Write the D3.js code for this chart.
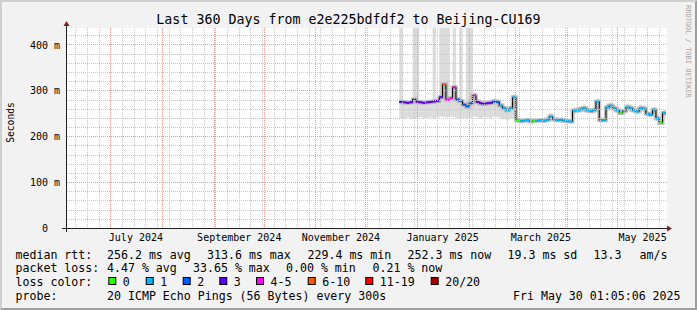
<!DOCTYPE html>
<html><head><meta charset="utf-8">
<script src="https://cdn.jsdelivr.net/npm/d3@7/dist/d3.min.js"></script>
<style>
html,body{margin:0;padding:0;background:#f2f2f2;}
svg{display:block}
text{font-family:"DejaVu Sans Mono",monospace;fill:#000}
</style></head><body>
<svg id="chart" width="697" height="310"></svg>
<script>
// ---------------- data ----------------
const titleText = "Last 360 Days from e2e225bdfdf2 to Beijing-CU169";
const yAxisTitle = "Seconds";
const watermark = "RRDTOOL / TOBI OETIKER";
const graphStart = new Date(2024,5,4,1,5,6);
const graphEnd = new Date(2025,4,30,1,5,6);
const dataStart = new Date(2024,11,21);
const stepDays = 2;

// median rtt (ms), one value per 2-day step
const median = [276,275,274,275,281,276,275,274,275,276,277,278,286,314,281,284,308,281,278,270,
                266,273,290,276,273,272,273,274,277,276,268,262,258,262,286,236,234,235,236,233,
                235,235,236,235,237,244,238,236,237,235,234,233,257,258,260,262,258,256,258,277,
                236,236,264,268,262,258,252,256,264,262,258,255,262,261,250,248,259,240,230,252];
// lost pings out of 20
const loss = [3,3,3,3,3,3,3,3,3,3,3,3,3,7,4,4,5,2,2,2,
              2,2,4,3,3,3,3,3,2,2,1,1,1,1,1,0,1,1,1,0,
              0,1,1,1,1,1,1,1,1,1,1,1,1,1,1,1,1,1,1,1,
              1,1,1,1,1,1,0,1,1,1,1,1,1,1,1,1,1,1,0,1];
// smoke: min and max ping (ms)
const pingMin = [241,240,242,240,239,241,243,240,241,242,240,242,244,243,242,244,243,240,239,241,
                 240,242,244,242,241,243,242,241,244,243,240,238,236,239,241,232,231,232,232,230,
                 231,232,232,231,233,236,233,232,233,231,230,230,250,252,253,254,252,250,251,262,
                 232,232,256,258,255,251,247,250,255,254,252,249,254,253,245,243,250,235,227,244];
const pingMax = [500,279,279,280,500,500,279,278,279,281,500,283,500,500,500,289,500,286,500,275,
                 500,500,296,281,278,277,278,280,283,281,273,267,263,268,292,241,239,240,241,238,
                 240,240,241,241,243,252,244,241,242,240,239,238,263,264,266,270,264,262,265,282,
                 242,242,272,274,269,265,258,262,272,270,266,262,270,268,256,254,264,247,236,258];

const yTickValues = [0,100,200,300,400];
const yTickLabels = ["0","100 m","200 m","300 m","400 m"];
const xLabelMonths = [new Date(2024,6,1),new Date(2024,8,1),new Date(2024,10,1),new Date(2025,0,1),new Date(2025,2,1),new Date(2025,4,1)];
const xTickLabels = ["July 2024","September 2024","November 2024","January 2025","March 2025","May 2025"];

const lossBuckets = ["0","1","2","3","4-5","6-10","11-19","20/20"];
const lossBucketMax = [0,1,2,3,5,10,19,20];
const lossColors = ["#26ff00","#00b8ff","#0059ff","#5e00ff","#ff00ff","#ff5500","#ff0000","#a10000"];

const rttStats = ["256.2 ms avg","313.6 ms max","229.4 ms min","252.3 ms now","19.3 ms sd","13.3","am/s"];
const lossStats = ["4.47 % avg","33.65 % max","0.00 % min","0.21 % now"];
const probeText = "20 ICMP Echo Pings (56 Bytes) every 300s";
const stampText = "Fri May 30 01:05:06 2025";

// ---------------- drawing ----------------
const W = 697, H = 310;
const svg = d3.select("#chart");
const CX0 = 67, CX1 = 667, CY0 = 28, CY1 = 228;
const yMax = 437;
const x = d3.scaleTime().domain([graphStart, graphEnd]).range([66, 666]);
const y = d3.scaleLinear().domain([0, yMax]).range([228.5, 28]);

// background + bevel
svg.append("rect").attr("width",W).attr("height",H).attr("fill","#f2f2f2");
svg.append("polygon").attr("points",`0,0 ${W},0 ${W-2},2 2,2 2,${H-2} 0,${H}`).attr("fill","#cfcfcf");
svg.append("polygon").attr("points",`${W},0 ${W},${H} 0,${H} 2,${H-2} ${W-2},${H-2} ${W-2},2`).attr("fill","#9e9e9e");

// canvas
svg.append("rect").attr("x",CX0).attr("y",CY0).attr("width",CX1-CX0).attr("height",CY1-CY0).attr("fill","#fff");
svg.append("clipPath").attr("id","cv").append("rect").attr("x",CX0).attr("y",CY0).attr("width",CX1-CX0).attr("height",CY1-CY0+1);

const times = median.map((_,i)=>d3.timeDay.offset(dataStart, i*stepDays));
const pts = median.map((m,i)=>({t:times[i], m, lo:pingMin[i], hi:pingMax[i], loss:loss[i]}));
const ptsExt = pts.concat([Object.assign({}, pts[pts.length-1], {t:graphEnd})]);

const plot = svg.append("g").attr("clip-path","url(#cv)");
// smoke
const area = d3.area().curve(d3.curveStepAfter)
  .x(d=>x(d.t)).y0(d=>y(d.lo)).y1(d=>y(Math.min(d.hi, yMax+5)));
plot.append("path").datum(ptsExt).attr("d",area).attr("fill","#dcdcdc");

// grid
const months = d3.timeMonth.range(graphStart, graphEnd);
const monthSet = new Set(months.map(d=>+d));
const mondays = d3.timeMonday.range(graphStart, graphEnd).filter(d=>!monthSet.has(+d));
const minorH = d3.range(20, yMax, 20).filter(v=>v%100!==0);
const majorH = yTickValues.filter(v=>v>0);
const grid = svg.append("g").attr("shape-rendering","crispEdges");
const px = v => Math.floor(x(v))+0.5;
const py = v => Math.floor(y(v))+0.5;
grid.selectAll(".mv").data(mondays).join("line")
  .attr("x1",px).attr("x2",px).attr("y1",CY0).attr("y2",CY1)
  .attr("stroke","#c8c8c8").attr("stroke-dasharray","1,1");
grid.selectAll(".mh").data(minorH).join("line")
  .attr("y1",py).attr("y2",py).attr("x1",CX0).attr("x2",CX1)
  .attr("stroke","#c8c8c8").attr("stroke-dasharray","1,1");
grid.selectAll(".Mv").data(months).join("line")
  .attr("x1",px).attr("x2",px).attr("y1",CY0).attr("y2",CY1)
  .attr("stroke","#e79a9a").attr("stroke-dasharray","1,1");
grid.selectAll(".Mh").data(majorH).join("line")
  .attr("y1",py).attr("y2",py).attr("x1",CX0).attr("x2",CX1)
  .attr("stroke","#e79a9a").attr("stroke-dasharray","1,1");

// median halo, black step line, coloured loss segments
const medLine = d3.line().curve(d3.curveStepAfter).x(d=>x(d.t)).y(d=>y(d.m));
plot.append("path").datum(ptsExt).attr("d",medLine).attr("fill","none")
  .attr("stroke","#999").attr("stroke-width",4).attr("stroke-opacity",0.6);
plot.append("path").datum(ptsExt).attr("d",medLine).attr("fill","none")
  .attr("stroke","#000").attr("stroke-width",1);
const colorOf = l => lossColors[lossBucketMax.findIndex(mx => l <= mx)];
plot.selectAll(".seg").data(pts).join("line")
  .attr("x1",d=>x(d.t)).attr("x2",(d,i)=>x(ptsExt[i+1].t))
  .attr("y1",d=>y(d.m)).attr("y2",d=>y(d.m))
  .attr("stroke",d=>colorOf(d.loss)).attr("stroke-width",2);

// axes
svg.append("line").attr("x1",62).attr("x2",669).attr("y1",228.5).attr("y2",228.5).attr("stroke","#1f1f1f");
svg.append("line").attr("x1",66.5).attr("x2",66.5).attr("y1",232).attr("y2",26).attr("stroke","#1f1f1f");
svg.append("polygon").attr("points","667,225.5 672,228.5 667,231.5").attr("fill","#7f1f1f");
svg.append("polygon").attr("points","63.5,26 66.5,21 69.5,26").attr("fill","#7f1f1f");

// y labels
svg.selectAll(".yl").data(yTickValues).join("text")
  .attr("x",60).attr("y",d=>y(d)+3.6).attr("text-anchor","end")
  .style("font-size","10px").style("white-space","pre")
  .text((d,i)=> yTickLabels[i].includes(" ") ? yTickLabels[i] : yTickLabels[i]+"  ");
// x labels
svg.selectAll(".xl").data(xLabelMonths).join("text")
  .attr("x",d=>x(d3.timeDay.offset(d,15))).attr("y",241.3).attr("text-anchor","middle")
  .style("font-size","10px").text((d,i)=>xTickLabels[i]);

// title
svg.append("text").attr("x",348.5).attr("y",24).attr("text-anchor","middle")
  .style("font-size","13.3px").text(titleText);
// y axis title
svg.append("text").attr("transform","translate(14,122.5) rotate(-90)").attr("text-anchor","middle")
  .style("font-size","9.6px").text(yAxisTitle);
// watermark
svg.append("text").attr("transform","translate(686,5) rotate(90)").attr("text-anchor","start")
  .style("font-size","7px").style("fill","#a8a8a8").text(watermark);

// legend
const lf = "11.6px";
function lt(xp, yp, s){ svg.append("text").attr("x",xp).attr("y",yp).style("font-size",lf).style("white-space","pre").text(s); }
const r1 = 258.5, r2 = 272, r3 = 285.8, r4 = 300;
lt(15.5, r1, "median rtt:");
[107, 207, 307.5, 407.5, 507.5, 593.5, 639.5].forEach((xp,i)=>lt(xp, r1, rttStats[i]));
lt(15.5, r2, "packet loss:");
[107, 193, 286, 372.5].forEach((xp,i)=>lt(xp, r2, lossStats[i]));
lt(15.5, r3, "loss color:");
const boxX = [108.3,145.7,182.7,219.3,256,307.7,365.3,430.7];
lossBuckets.forEach((b,i)=>{
  svg.append("rect").attr("x",boxX[i]+0.5).attr("y",277.5).attr("width",7).attr("height",7)
    .attr("fill",lossColors[i]).attr("stroke","#000").attr("stroke-width",1);
  lt(boxX[i]+14.5, r3, b);
});
lt(15.5, r4, "probe:");
lt(107, r4, probeText);
lt(513, r4, stampText);
</script>
</body></html>
